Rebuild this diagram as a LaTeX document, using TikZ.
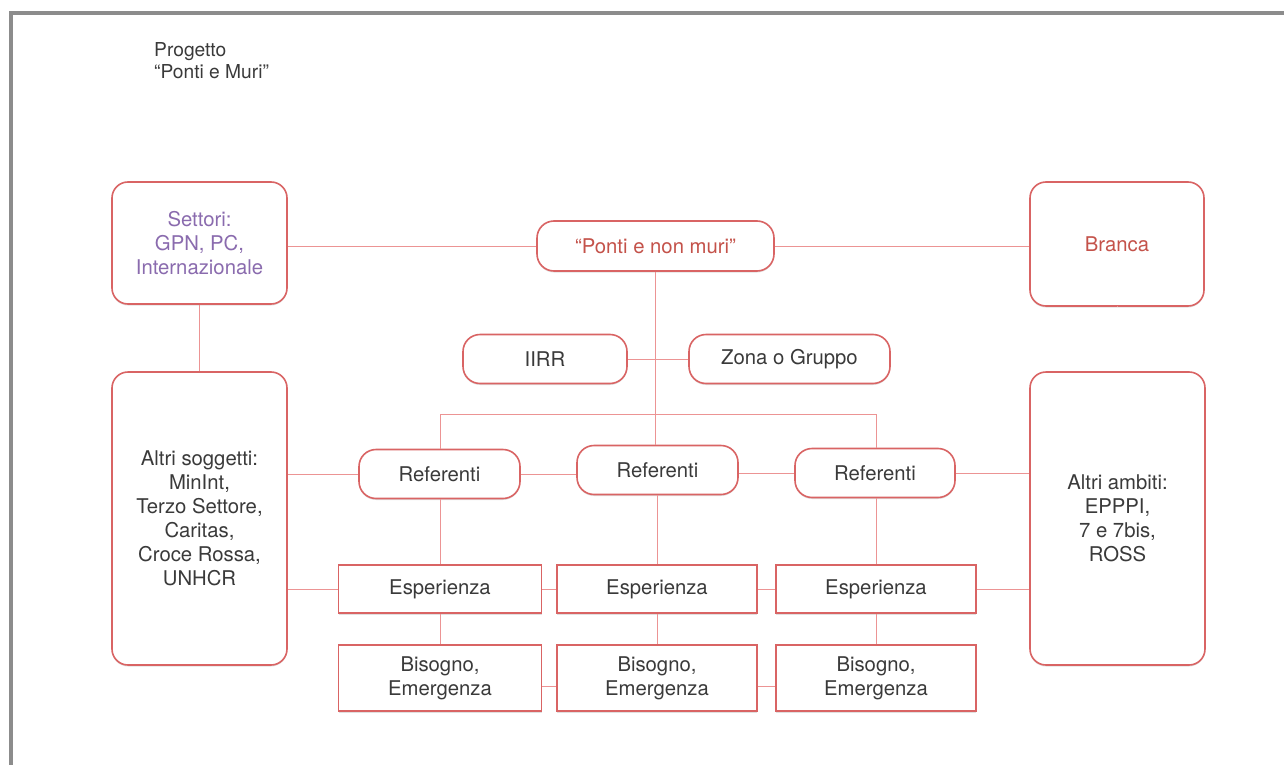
\documentclass[tikz,border=0pt]{standalone}
\usepackage{fontspec}
\setmainfont{TeX Gyre Heros}
\usetikzlibrary{shadows}
\definecolor{boxline}{HTML}{D96464}
\definecolor{conn}{HTML}{EC9494}
\definecolor{txt}{HTML}{3A3A3A}
\definecolor{purp}{HTML}{8A6BAE}
\definecolor{redtxt}{HTML}{C4524A}
\definecolor{frame}{HTML}{8C8C8C}
\begin{document}
\begin{tikzpicture}[x=1pt,y=-1pt,
  every node/.style={font=\fontsize{20.3}{24}\selectfont, text=txt, align=center, inner sep=0pt},
  base/.style={draw=boxline, line width=1.6pt, fill=white,
     drop shadow={shadow xshift=0pt, shadow yshift=-1.5pt, opacity=0.12, fill=black}},
  bigbox/.style={base, rounded corners=16pt},
  pill/.style={base, rounded corners=17pt, minimum height=49pt},
  sqbox/.style={base, minimum width=203pt},
  cn/.style={draw=conn, line width=1pt}
]
\useasboundingbox (0,0) rectangle (1284,765);
\fill[white] (0,0) rectangle (1284,765);
% frame
\draw[frame, line width=4pt] (11,770) -- (11,13.5) -- (1290,13.5);

\node[anchor=north west, align=left, font=\fontsize{19.2}{22}\selectfont] (title) at (154,42) {Progetto\\“Ponti e Muri”};

% nodes
\node[bigbox, minimum width=175pt, minimum height=122pt, text=purp] (sett) at (199.5,243) {Settori:\\GPN, PC,\\Internazionale};
\node[pill, minimum width=237pt, minimum height=50pt, text=redtxt] (ponti) at (655.5,246) {“Ponti e non muri”};
\node[bigbox, minimum width=174pt, minimum height=124pt, text=redtxt] (branca) at (1117,244) {Branca};

\node[bigbox, minimum width=175pt, minimum height=293pt] (altris) at (199.5,518.5) {Altri soggetti:\\MinInt,\\Terzo Settore,\\Caritas,\\Croce Rossa,\\UNHCR};
\node[bigbox, minimum width=175pt, minimum height=293pt] (altria) at (1117.5,518.5) {Altri ambiti:\\EPPPI,\\7 e 7bis,\\ROSS};

\node[pill, minimum width=164pt] (iirr) at (545,359) {IIRR};
\node[pill, minimum width=201pt] (zona) at (789.5,359) {Zona o Gruppo};

\node[pill, minimum width=161pt] (ref1) at (439.5,474) {Referenti};
\node[pill, minimum width=161pt] (ref2) at (657.5,470) {Referenti};
\node[pill, minimum width=160pt] (ref3) at (875,473) {Referenti};

\node[sqbox, minimum height=48pt] (esp1) at (440,589) {Esperienza};
\node[sqbox, minimum height=48pt, minimum width=200pt] (esp2) at (657,589) {Esperienza};
\node[sqbox, minimum height=48pt, minimum width=200pt] (esp3) at (876,589) {Esperienza};

\node[sqbox, minimum height=66pt] (bis1) at (440,678) {Bisogno,\\Emergenza};
\node[sqbox, minimum height=66pt, minimum width=200pt] (bis2) at (657,678) {Bisogno,\\Emergenza};
\node[sqbox, minimum height=66pt, minimum width=200pt] (bis3) at (876,678) {Bisogno,\\Emergenza};

\coordinate (bar) at (655.5,414);
\coordinate (barL) at (440,414);
\coordinate (barR) at (876,414);

% connectors
\draw[cn] (sett.east |- ponti.west) -- (ponti.west);
\draw[cn] (ponti.east) -- (ponti.east -| branca.west);
\draw[cn] (sett.south) -- (altris.north);
\draw[cn] (branca.south) -- (branca.south -| altria.north);
\draw[cn] (ponti.south) -- (bar);
\draw[cn] (iirr.east) -- (zona.west);
\draw[cn] (barL) -- (barR);
\draw[cn] (barL) -- (barL |- ref1.north);
\draw[cn] (barR) -- (barR |- ref3.north);
\draw[cn] (bar) -- (bar |- ref2.north);
\draw[cn] (altris.east |- ref1.west) -- (ref1.west);
\draw[cn] (ref1.east) -- (ref1.east -| ref2.west);
\draw[cn] (ref2.east |- ref3.west) -- (ref3.west);
\draw[cn] (ref3.east) -- (ref3.east -| altria.west);
\draw[cn] (ref1.south -| esp1.north) -- (esp1.north);
\draw[cn] (ref2.south -| esp2.north) -- (esp2.north);
\draw[cn] (ref3.south -| esp3.north) -- (esp3.north);
\draw[cn] (altris.east |- esp1.west) -- (esp1.west);
\draw[cn] (esp1.east) -- (esp2.west);
\draw[cn] (esp2.east) -- (esp3.west);
\draw[cn] (esp3.east) -- (esp3.east -| altria.west);
\draw[cn] (esp1.south) -- (bis1.north);
\draw[cn] (esp2.south) -- (bis2.north);
\draw[cn] (esp3.south) -- (bis3.north);
\draw[cn] ([yshift=-8pt]bis1.east) -- ([yshift=-8pt]bis2.west);
\draw[cn] ([yshift=-8pt]bis2.east) -- ([yshift=-8pt]bis3.west);
\end{tikzpicture}
\end{document}
